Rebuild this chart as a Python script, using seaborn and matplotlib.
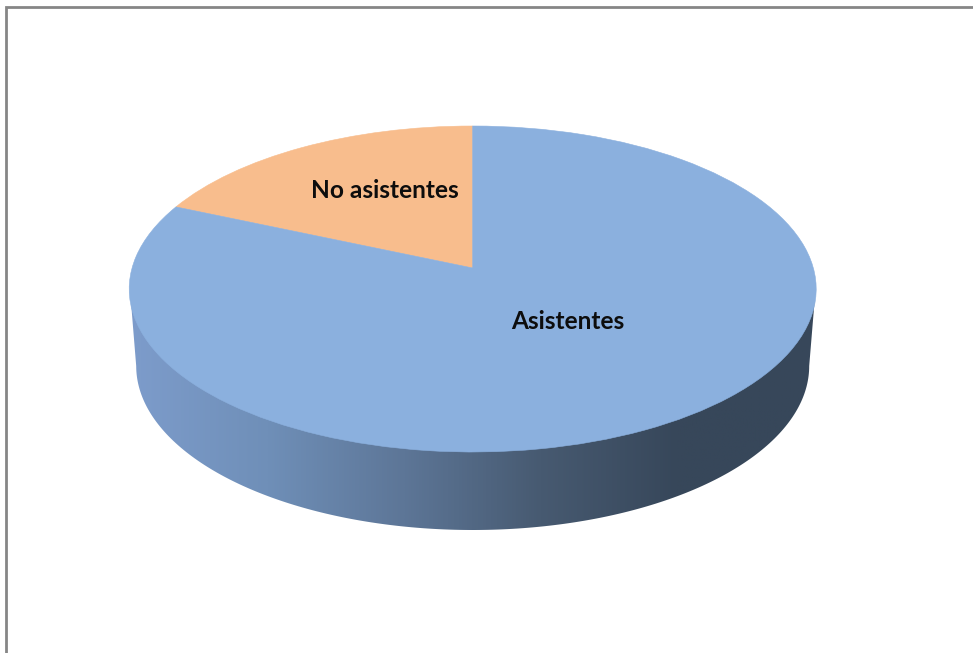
import numpy as np
import matplotlib
matplotlib.use('Agg')
import matplotlib.pyplot as plt
from matplotlib.patches import PathPatch, Polygon
from matplotlib.path import Path
from matplotlib.lines import Line2D
import seaborn as sns

labels = ['No asistentes', 'Asistentes']
values = [16.6, 83.4]
colors = ['#f8bd8d', '#8bb0de']
side_colors = ['#7d9ccb', '#6f8fb8', '#5d7697', '#475a71', '#37475a', '#37475a']

sns.set_theme(style='white')
plt.rcParams['font.family'] = ['Lato', 'DejaVu Sans']

W, H = 973, 653
fig = plt.figure(figsize=(W / 100, H / 100), dpi=100, facecolor='white')
ax = fig.add_axes([0, 0, 1, 1])

wedges, _ = ax.pie(values, colors=colors, startangle=90, wedgeprops={'linewidth': 0})

ax.set_aspect('auto')
ax.set_xlim(0, W)
ax.set_ylim(H, 0)
ax.axis('off')

# top ellipse, apex sits a bit above the centre because of the perspective
cx, cy, rx, ry = 472.7, 289, 343.5, 163
apex = (472.7, 268)
for w, c in zip(wedges, colors):
    p = w.get_path()
    v = p.vertices.copy()
    at_centre = np.hypot(v[:, 0], v[:, 1]) < 1e-6
    v = np.column_stack([cx + rx * v[:, 0], cy - ry * v[:, 1]])
    v[at_centre] = apex
    w.remove()
    ax.add_patch(PathPatch(Path(v, p.codes), facecolor=c, edgecolor=c, lw=0.4, zorder=3))

# side wall
t = np.linspace(np.pi, 0, 200)
bx = 472.7 + 336.5 * np.cos(t)
by = 366 + 164 * np.sin(t)
outline = np.vstack([[[130, 290]], np.column_stack([bx, by]), [[815.5, 290]]])
wall = Polygon(outline, closed=True, transform=ax.transData, facecolor='none', edgecolor='none')
ax.add_patch(wall)
cmap = sns.blend_palette(side_colors, as_cmap=True)
grad = ax.imshow(np.linspace(0, 1, 512).reshape(1, -1), cmap=cmap, aspect='auto',
                 extent=[130, 815, 535, 285], zorder=2)
grad.set_clip_path(wall)
ax.set_xlim(0, W)
ax.set_ylim(H, 0)

ax.text(384.5, 190, labels[0], ha='center', va='center', fontsize=17.6, fontweight='bold', color='#0d0d0d', zorder=4)
ax.text(567.5, 321.5, labels[1], ha='center', va='center', fontsize=17.6, fontweight='bold', color='#0d0d0d', zorder=4)

# frame of the chart, cut off on the right and at the bottom
ax.add_line(Line2D([6, 6, W], [H, 7, 7], color='#868686', lw=2, solid_joinstyle='miter', zorder=5))

fig.savefig('out.png', dpi=100)
